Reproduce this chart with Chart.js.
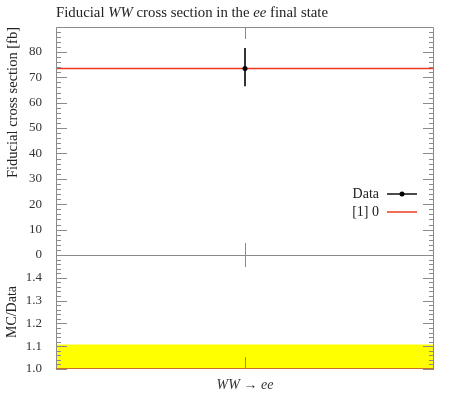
<!DOCTYPE html>
<html>
<head>
<meta charset="utf-8">
<script src="https://cdn.jsdelivr.net/npm/chart.js@4/dist/chart.umd.min.js"></script>
<style>
html, body { margin: 0; padding: 0; background: #fff; }
</style>
</head>
<body>
<canvas id="xsec" width="450" height="407"></canvas>
<script>
// values
var binLabels = ['WW \u2192 ee'];
var binEdges = [0, 1];
var dataValues = [73.5];
var dataErrLow = [66.5];
var dataErrHigh = [81.5];
var mcValues = [73.5];
var ratioBandLow = [1.0];
var ratioBandHigh = [1.107];
var mcRatio = [1.0];
var mainTicks = [0, 10, 20, 30, 40, 50, 60, 70, 80];
var ratioTicks = [1.0, 1.1, 1.2, 1.3, 1.4];

var serif = '"Liberation Serif", "DejaVu Serif", serif';
var frameColor = '#8a8a8a';
var mcColor = '#ee3a1c';

function centre(i) { return (binEdges[i] + binEdges[i + 1]) / 2; }

// step line over the bins
function stepPoints(vals) {
var pts = [];
vals.forEach(function(v, i) {
pts.push({x: binEdges[i], y: v});
pts.push({x: binEdges[i + 1], y: v});
});
return pts;
}

var dataPoints = dataValues.map(function(v, i) { return {x: centre(i), y: v}; });
var errPoints = [];
dataValues.forEach(function(v, i) {
errPoints.push({x: centre(i), y: dataErrLow[i]});
errPoints.push({x: centre(i), y: dataErrHigh[i]});
});

var frame = {
id: 'frame',
afterDatasetsDraw: function(chart) {
var ctx = chart.ctx, a = chart.chartArea;
var y = chart.scales.y, yr = chart.scales.yr, x = chart.scales.x;
ctx.save();
ctx.strokeStyle = frameColor;
ctx.lineWidth = 1;
ctx.beginPath();
function yTicks(scale, lo, hi, step, majors) {
for (var v = lo; v <= hi + 1e-9; v += step) {
var py = Math.round(scale.getPixelForValue(v)) + 0.5;
var major = majors.some(function(m) { return Math.abs(m - v) < 1e-6; });
var len = major ? 11 : 5;
ctx.moveTo(a.left, py); ctx.lineTo(a.left + len, py);
ctx.moveTo(a.right, py); ctx.lineTo(a.right - len, py);
}
}
yTicks(y, 0, y.max, 2, mainTicks);
yTicks(yr, 1.0, 1.49, 0.02, ratioTicks);
binLabels.forEach(function(l, i) {
var px = Math.round(x.getPixelForValue(centre(i))) + 0.5;
var mid = yr.top;
ctx.moveTo(px, a.top); ctx.lineTo(px, a.top + 12);
ctx.moveTo(px, mid - 12); ctx.lineTo(px, mid + 12);
ctx.moveTo(px, a.bottom); ctx.lineTo(px, a.bottom - 12);
});
ctx.stroke();
ctx.beginPath();
ctx.moveTo(a.left + 0.5, a.bottom);
ctx.lineTo(a.left + 0.5, a.top + 0.5);
ctx.lineTo(a.right - 0.5, a.top + 0.5);
ctx.lineTo(a.right - 0.5, a.bottom);
ctx.moveTo(a.left, Math.round(yr.top) + 0.5);
ctx.lineTo(a.right, Math.round(yr.top) + 0.5);
ctx.stroke();
ctx.strokeStyle = '#c8702a';
ctx.beginPath();
ctx.moveTo(a.left, a.bottom - 0.5);
ctx.lineTo(a.right, a.bottom - 0.5);
ctx.stroke();

// title with italic parts
var parts = [['Fiducial ', ''], ['WW', 'italic '], [' cross section in the ', ''], ['ee', 'italic '], [' final state', '']];
var tx = a.left;
ctx.fillStyle = '#222';
ctx.textBaseline = 'alphabetic';
ctx.textAlign = 'left';
parts.forEach(function(p) {
ctx.font = p[1] + '14.8px ' + serif;
ctx.fillText(p[0], tx, 17);
tx += ctx.measureText(p[0]).width;
});

// legend
ctx.font = '14px ' + serif;
ctx.textAlign = 'right';
ctx.textBaseline = 'middle';
ctx.fillText('Data', 379, 194);
ctx.fillText('[1] 0', 379, 212);
ctx.strokeStyle = '#111';
ctx.lineWidth = 1.5;
ctx.beginPath(); ctx.moveTo(387, 194); ctx.lineTo(417, 194); ctx.stroke();
ctx.fillStyle = '#000';
ctx.beginPath(); ctx.arc(402, 194, 2.5, 0, Math.PI * 2); ctx.fill();
ctx.strokeStyle = mcColor;
ctx.beginPath(); ctx.moveTo(387, 212); ctx.lineTo(417, 212); ctx.stroke();
ctx.restore();
}
};

new Chart(document.getElementById('xsec'), {
type: 'scatter',
data: {
datasets: [{
data: dataPoints,
yAxisID: 'y',
pointRadius: 2.5,
pointBackgroundColor: '#000',
pointBorderWidth: 0,
showLine: false
}, {
data: errPoints,
yAxisID: 'y',
showLine: true,
borderColor: '#333',
borderWidth: 2,
pointRadius: 0
}, {
data: stepPoints(mcValues),
yAxisID: 'y',
showLine: true,
borderColor: mcColor,
borderWidth: 1.5,
pointRadius: 0
}, {
data: stepPoints(mcRatio),
yAxisID: 'yr',
showLine: true,
borderColor: '#e07020',
borderWidth: 1.5,
pointRadius: 0
}, {
data: stepPoints(ratioBandHigh),
yAxisID: 'yr',
showLine: true,
borderWidth: 0,
pointRadius: 0,
backgroundColor: '#ffff00',
fill: {value: ratioBandLow[0]}
}]
},
options: {
responsive: false,
animation: false,
layout: { padding: { top: 27, right: 16, left: 0, bottom: 0 } },
plugins: { legend: { display: false }, tooltip: { enabled: false } },
scales: {
x: {
type: 'linear',
min: binEdges[0],
max: binEdges[binEdges.length - 1],
grid: { display: false },
border: { display: false },
afterBuildTicks: function(s) { s.ticks = binLabels.map(function(l, i) { return {value: centre(i)}; }); },
afterFit: function(s) { s.height = 38; },
ticks: {
padding: 0,
color: '#333',
font: { family: serif, size: 14, style: 'italic' },
maxRotation: 0,
callback: function(v) { return binLabels[Math.floor(v)]; }
}
},
yr: {
type: 'linear',
position: 'left',
stack: 'panels',
stackWeight: 1,
min: 1.0,
max: 1.5,
grid: { display: false },
border: { display: false },
afterBuildTicks: function(s) { s.ticks = ratioTicks.map(function(v) { return {value: v}; }); },
afterFit: function(s) { s.width = 56; },
ticks: {
autoSkip: false,
padding: 6,
color: '#333',
font: { family: serif, size: 13 },
callback: function(v) { return v.toFixed(1); }
},
title: { display: true, text: 'MC/Data', color: '#222', font: { family: serif, size: 14 } }
},
y: {
type: 'linear',
position: 'left',
stack: 'panels',
stackWeight: 2,
min: 0,
max: 89.8,
grid: { display: false },
border: { display: false },
afterBuildTicks: function(s) { s.ticks = mainTicks.map(function(v) { return {value: v}; }); },
afterFit: function(s) { s.width = 56; },
ticks: {
autoSkip: false,
padding: 6,
color: '#333',
font: { family: serif, size: 13 },
callback: function(v) { return String(v); }
},
title: { display: true, text: 'Fiducial cross section [fb]', align: 'end', color: '#222', font: { family: serif, size: 14.5 } }
}
}
},
plugins: [frame]
});
</script>
</body>
</html>
